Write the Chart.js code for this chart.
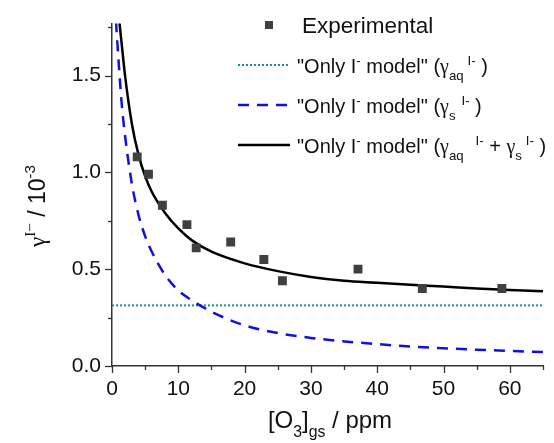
<!DOCTYPE html>
<html>
<head>
<meta charset="utf-8">
<script src="https://cdn.jsdelivr.net/npm/chart.js@4.4.1/dist/chart.umd.min.js"></script>
<style>
  html, body { margin: 0; padding: 0; background: #fff; }
  #wrap { width: 554px; height: 443px; position: relative; }
</style>
</head>
<body>
<div id="wrap"><canvas id="c" width="554" height="443"></canvas></div>
<script>
// experimental points
var xExp = [3.8, 5.5, 7.6, 11.3, 12.7, 17.9, 22.9, 25.7, 37.1, 46.8, 58.8];
var yExp = [1.08, 0.99, 0.83, 0.73, 0.61, 0.64, 0.55, 0.44, 0.50, 0.40, 0.40];

// "Only I- model" (gamma_aq) -- constant
var xAq = [0, 65];
var yAq = [0.313, 0.313];

// "Only I- model" (gamma_s)
var xS = [0.6, 1, 1.5, 2, 3, 4, 5, 6, 8, 10, 12, 15, 20, 25, 30, 35, 40, 45, 50, 55, 60, 65];
var yS = [1.78, 1.57, 1.34, 1.18, 0.94, 0.78, 0.67, 0.59, 0.47, 0.39, 0.34, 0.28, 0.21, 0.17, 0.145, 0.127, 0.113, 0.10, 0.092, 0.084, 0.078, 0.072];

// sum curve -- solid black
var xSum = [1.1, 1.5, 2, 3, 4, 5, 6, 8, 10, 12, 15, 20, 25, 30, 35, 40, 45, 50, 55, 60, 65];
var ySum = [1.78, 1.65, 1.49, 1.25, 1.09, 0.98, 0.90, 0.79, 0.71, 0.65, 0.59, 0.53, 0.49, 0.46, 0.44, 0.43, 0.42, 0.41, 0.40, 0.393, 0.386];

function pts(xs, ys) { return xs.map(function(x, i) { return { x: x, y: ys[i] }; }); }

var SANS = "'Liberation Sans', Arial, sans-serif";
var SERIF = "'Liberation Serif', 'DejaVu Serif', serif";
var TEAL = "#17918f", BLUE = "#1010e0", GREY = "#404040";

// text with super/subscripts; part = [text, mode, serif, gapBefore]
function partFont(p, size) {
  var s = p[1] === "n" ? size : size * 0.66;
  return s + "px " + (p[2] ? SERIF : SANS);
}
function richWidth(ctx, parts, size) {
  var w = 0;
  parts.forEach(function(p) {
    ctx.font = partFont(p, size);
    w += (p[3] || 0) + ctx.measureText(p[0]).width;
  });
  return w;
}
function drawRich(ctx, x, y, parts, size) {
  parts.forEach(function(p) {
    var dy = p[1] === "sup" ? -size * 0.42 : (p[1] === "sub" ? size * 0.36 : 0);
    ctx.font = partFont(p, size);
    x += p[3] || 0;
    ctx.fillText(p[0], x, y + dy);
    x += ctx.measureText(p[0]).width;
  });
}

var extras = {
  id: "extras",
  afterDraw: function(chart) {
    var ctx = chart.ctx, xs = chart.scales.x, ys = chart.scales.y;
    var b = chart.chartArea.bottom, l = chart.chartArea.left;
    ctx.save();
    ctx.strokeStyle = "#333"; ctx.lineWidth = 1.3;
    // tick marks, outward
    for (var v = 0; v <= 65; v += 5) {
      var px = Math.round(xs.getPixelForValue(v)) + 0.5;
      ctx.beginPath(); ctx.moveTo(px, b); ctx.lineTo(px, b + (v % 10 === 0 ? 7 : 4)); ctx.stroke();
    }
    for (var k = 0; k <= 7; k++) {
      var py = Math.round(ys.getPixelForValue(k * 0.25)) + 0.5;
      ctx.beginPath(); ctx.moveTo(l, py); ctx.lineTo(l - (k % 2 === 0 ? 7 : 4), py); ctx.stroke();
    }

    ctx.fillStyle = "#111"; ctx.textBaseline = "alphabetic"; ctx.textAlign = "left";
    // x title
    var xt = [["[O", "n"], ["3", "sub"], ["]", "n"], ["gs", "sub"], [" / ppm", "n"]];
    var w = richWidth(ctx, xt, 24);
    drawRich(ctx, 330 - w / 2, 428, xt, 24);

    // y title (rotated)
    ctx.save();
    ctx.translate(45, 206); ctx.rotate(-Math.PI / 2);
    var yt = [["\u03b3", "n", true], ["I\u2212", "sup", true], [" / 10", "n"], ["-3", "sup"]];
    w = richWidth(ctx, yt, 23);
    drawRich(ctx, -w / 2, 0, yt, 23);
    ctx.restore();

    // legend
    var lx0 = 238, lx1 = 290, tx = 297, fs = 20;
    var rows = [25, 65, 105, 145];
    ctx.fillStyle = GREY;
    ctx.fillRect(265, rows[0] - 4, 8, 8);
    ctx.lineWidth = 2;
    ctx.strokeStyle = TEAL; ctx.setLineDash([2, 2]);
    ctx.beginPath(); ctx.moveTo(lx0, rows[1]); ctx.lineTo(lx1, rows[1]); ctx.stroke();
    ctx.lineWidth = 2.5;
    ctx.strokeStyle = BLUE; ctx.setLineDash([11, 8]);
    ctx.beginPath(); ctx.moveTo(lx0, rows[2]); ctx.lineTo(lx1, rows[2]); ctx.stroke();
    ctx.strokeStyle = "#000"; ctx.setLineDash([]);
    ctx.beginPath(); ctx.moveTo(lx0, rows[3]); ctx.lineTo(lx1, rows[3]); ctx.stroke();

    ctx.fillStyle = "#111";
    drawRich(ctx, 302, rows[0] + 8, [["Experimental", "n"]], 22.5);
    var head = [["\"Only I", "n"], ["-", "sup"], [" model\" (", "n"]];
    var base = 8;
    drawRich(ctx, tx, rows[1] + base, head.concat([["\u03b3", "n", true], ["aq", "sub"], ["I-", "sup", false, 4], [" )", "n"]]), fs);
    drawRich(ctx, tx, rows[2] + base, head.concat([["\u03b3", "n", true], ["s", "sub"], ["I-", "sup", false, 6], [" )", "n"]]), fs);
    drawRich(ctx, tx, rows[3] + base, head.concat([["\u03b3", "n", true], ["aq", "sub"], ["I-", "sup", false, 12], [" + ", "n"],
      ["\u03b3", "n", true], ["s", "sub"], ["I-", "sup", false, 4], [" )", "n"]]), fs);
    ctx.restore();
  }
};

new Chart(document.getElementById("c"), {
  type: "scatter",
  data: {
    datasets: [
      { label: "Experimental", data: pts(xExp, yExp), pointStyle: "rect", pointRadius: 6.3,
        backgroundColor: GREY, borderWidth: 0, order: 0 },
      { label: "aq", data: pts(xAq, yAq), showLine: true, pointRadius: 0, borderColor: TEAL,
        borderWidth: 2, borderDash: [2, 2], order: 3 },
      { label: "s", data: pts(xS, yS), showLine: true, pointRadius: 0, borderColor: BLUE,
        borderWidth: 2.5, borderDash: [11, 8], cubicInterpolationMode: "monotone", order: 2 },
      { label: "sum", data: pts(xSum, ySum), showLine: true, pointRadius: 0, borderColor: "#000",
        borderWidth: 2.5, cubicInterpolationMode: "monotone", order: 1 }
    ]
  },
  options: {
    responsive: false, animation: false,
    layout: { padding: { left: 0, right: 9, top: 16, bottom: 0 } },
    plugins: { legend: { display: false }, tooltip: { enabled: false } },
    scales: {
      x: {
        type: "linear", min: 0, max: 65,
        grid: { display: false, drawTicks: false },
        border: { display: true, color: "#333", width: 1.5 },
        afterFit: function(a) { a.height = 77; },
        ticks: { stepSize: 5, padding: 11, color: "#111", font: { family: SANS, size: 21 },
          maxRotation: 0, autoSkip: false,
          callback: function(v) { return v % 10 === 0 ? String(v) : ""; } }
      },
      y: {
        type: "linear", min: 0, max: 1.768,
        grid: { display: false, drawTicks: false },
        border: { display: true, color: "#333", width: 1.5 },
        afterFit: function(a) { a.width = 112; },
        ticks: { stepSize: 0.25, padding: 11, color: "#111", font: { family: SANS, size: 21 },
          autoSkip: false,
          callback: function(v) { return Math.abs(v * 2 - Math.round(v * 2)) < 1e-6 ? v.toFixed(1) : ""; } }
      }
    }
  },
  plugins: [extras]
});
</script>
</body>
</html>
